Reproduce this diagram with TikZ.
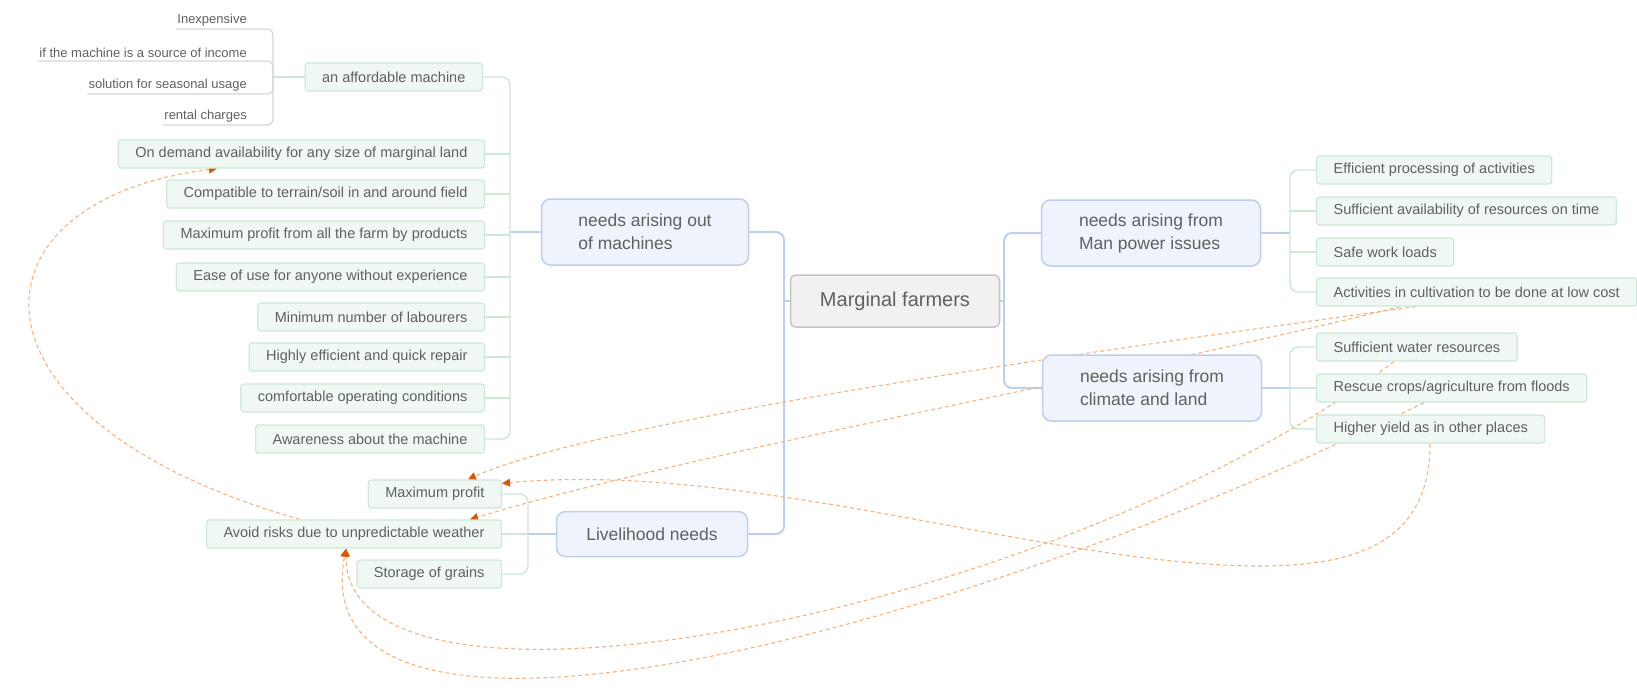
\documentclass[tikz,border=0pt]{standalone}
\usepackage{fontspec}
\setmainfont{Liberation Sans}
\usetikzlibrary{arrows.meta,positioning,backgrounds}
\definecolor{txt}{HTML}{606060}
\definecolor{topfill}{HTML}{F1F1F1}
\definecolor{topline}{HTML}{C4C4C4}
\definecolor{bluefill}{HTML}{EEF3FC}
\definecolor{blueline}{HTML}{BCCFEC}
\definecolor{greenfill}{HTML}{EFF8F3}
\definecolor{greenline}{HTML}{CDE8D7}
\definecolor{greyline}{HTML}{D6D6D6}
\definecolor{relline}{HTML}{F4B183}
\definecolor{relhead}{HTML}{D45A0E}

\begin{document}
\begin{tikzpicture}
	[x=1pt,y=-1pt,
	 every node/.style={text=txt,font=\fontsize{14.5}{17}\selectfont,inner sep=0pt},
	 topic/.style={draw=topline,fill=topfill,line width=1.5pt,rounded corners=5pt,minimum width=209pt,minimum height=52pt,font=\fontsize{20}{24}\selectfont},
	 need/.style={draw=blueline,fill=bluefill,line width=1.5pt,rounded corners=9pt,minimum height=66pt,align=left,font=\fontsize{17.5}{23}\selectfont},
	 leaf/.style={draw=greenline,fill=greenfill,line width=1.2pt,rounded corners=3pt,minimum height=28pt,inner xsep=17pt},
	 sub/.style={font=\fontsize{13}{15}\selectfont,inner xsep=1pt,inner ysep=3pt,anchor=south east},
	 trunk/.style={draw=blueline,line width=2pt,rounded corners=8pt},
	 twig/.style={draw=greenline,line width=1.4pt,rounded corners=8pt},
	 hair/.style={draw=greyline,line width=1.2pt,rounded corners=6pt},
	 rel/.style={draw=relline,line width=1.1pt,dash pattern=on 4pt off 3pt,-{Triangle[length=8pt,width=8pt,color=relhead]}}]

	\useasboundingbox (0,0) rectangle (1637,689);
	%\draw[help lines,step=50] (0,0) grid (1637,689);

	\node[topic] (mf) at (895,301) {Marginal farmers};
	\node[need,minimum width=207pt] (mach) at (645,232) {needs arising out\\of machines};
	\node[need,minimum width=191pt,minimum height=45pt] (live) at (652,534) {Livelihood needs};
	\node[need,minimum width=219pt] (man) at (1151,233) {needs arising from\\Man power issues};
	\node[need,minimum width=219pt] (clim) at (1152,388) {needs arising from\\climate and land};

	\node[leaf,anchor=east] (aff) at (483,77) {an affordable machine};
	\node[leaf,anchor=east] (dem) at (485,154) {On demand availability for any size of marginal land};
	\node[leaf,anchor=east] (cmp) at (485,194) {Compatible to terrain/soil in and around field};
	\node[leaf,anchor=east] (mxp) at (485,235) {Maximum profit from all the farm by products};
	\node[leaf,anchor=east] (eas) at (485,277) {Ease of use for anyone without experience};
	\node[leaf,anchor=east] (mnl) at (485,317) {Minimum number of labourers};
	\node[leaf,anchor=east] (hig) at (485,357) {Highly efficient and quick repair};
	\node[leaf,anchor=east] (cmf) at (485,398) {comfortable operating conditions};
	\node[leaf,anchor=east] (awr) at (485,439) {Awareness about the machine};

	\node[sub] (inx) at (248,29) {Inexpensive};
	\node[sub] (inc) at (248,61) {if the machine is a source of income};
	\node[sub] (sea) at (248,94) {solution for seasonal usage};
	\node[sub] (rnt) at (248,125) {rental charges};

	\node[leaf,anchor=east] (maxp) at (502,494) {Maximum profit};
	\node[leaf,anchor=east] (avd) at (502,534) {Avoid risks due to unpredictable weather};
	\node[leaf,anchor=east] (stor) at (502,574) {Storage of grains};

	\node[leaf,anchor=west] (eff) at (1316,170) {Efficient processing of activities};
	\node[leaf,anchor=west] (suf) at (1316,211) {Sufficient availability of resources on time};
	\node[leaf,anchor=west] (saf) at (1316,252) {Safe work loads};
	\node[leaf,anchor=west] (act) at (1316,292) {Activities in cultivation to be done at low cost};

	\node[leaf,anchor=west] (wat) at (1316,347) {Sufficient water resources};
	\node[leaf,anchor=west] (res) at (1316,388) {Rescue crops/agriculture from floods};
	\node[leaf,anchor=west] (hyl) at (1316,429) {Higher yield as in other places};

	\coordinate (mj) at (510,232);
	\coordinate (aj) at (273,77);
	\coordinate (lj) at (528,534);
	\coordinate (pj) at (1290,233);
	\coordinate (cj) at (1290,388);

	\begin{scope}[on background layer]
	\draw[trunk] (mach.east) -| (784,301) |- (live.east);
	\draw[trunk] (mf.west) -- (784,301);
	\draw[trunk] (man.west) -| (1004,301) |- (clim.west);
	\draw[trunk] (mf.east) -- (1004,301);

	\draw[trunk] (mach.west) -- (mj);
	\draw[twig] (aff.east) -| (mj) |- (awr.east);
	\foreach \n in {dem,cmp,mxp,eas,mnl,hig,cmf}
		\draw[twig] (\n.east) -- (\n.east -| mj);

	\draw[twig] (aff.west) -- (aj);
	\foreach \n in {inx,inc,sea,rnt}
		\draw[hair] (\n.south west) -- (\n.south east) -| (aj);

	\draw[trunk] (live.west) -- (lj);
	\draw[twig] (maxp.east) -| (lj) |- (stor.east);
	\draw[twig] (lj) -- (avd.east);

	\draw[trunk] (man.east) -- (pj);
	\draw[twig] (eff.west) -| (pj) |- (act.west);
	\foreach \n in {suf,saf}
		\draw[twig] (\n.west) -- (\n.west -| pj);

	\draw[trunk] (clim.east) -- (cj);
	\draw[twig] (wat.west) -| (cj) |- (hyl.west);
	\draw[twig] (res.west) -- (cj);

	% relationships
	\draw[rel] ([xshift=-202pt]avd.north east) .. controls (-50,420) and (-40,200) .. ([xshift=-268pt]dem.south east);
	\draw[rel] ([xshift=100pt]act.south west) .. controls (1100,350) and (600,420) .. ([xshift=-34pt]maxp.north east);
	\draw[rel] ([xshift=84pt]act.south west) .. controls (1150,370) and (700,450) .. ([xshift=-32pt]avd.north east);
	\draw[rel] ([xshift=78pt]wat.south west) .. controls (1050,620) and (345,750) .. ([xshift=-156pt]avd.south east);
	\draw[rel] ([xshift=108pt]res.south west) .. controls (900,660) and (300,790) .. ([xshift=-156pt]avd.south east);
	\draw[rel] ([xshift=114pt]hyl.south west) .. controls (1430,540) and (1360,566) .. (1260,566)
		.. controls (1050,566) and (750,460) .. ([yshift=-4pt]maxp.north east);
	\end{scope}
\end{tikzpicture}
\end{document}
